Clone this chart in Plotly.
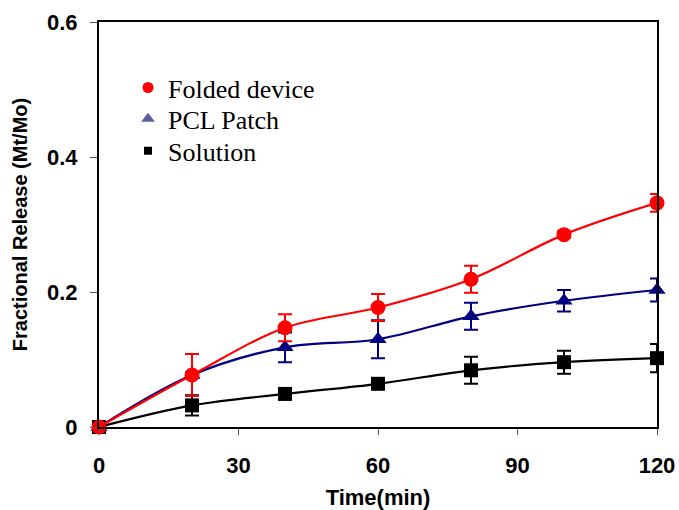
import plotly.graph_objects as go

time_min = [0, 20, 40, 60, 80, 100, 120]

folded = [0.0, 0.077, 0.147, 0.177, 0.219, 0.285, 0.332]
folded_err = [0.0, 0.031, 0.020, 0.020, 0.020, 0.005, 0.013]

pcl = [0.0, 0.077, 0.118, 0.130, 0.164, 0.187, 0.203]
pcl_err = [0.0, 0.004, 0.022, 0.028, 0.020, 0.016, 0.017]

solution = [0.0, 0.032, 0.049, 0.064, 0.084, 0.096, 0.102]
solution_err = [0.0, 0.015, 0.004, 0.004, 0.020, 0.017, 0.021]

y_ticks = [0, 0.2, 0.4, 0.6]
y_tick_labels = ["0", "0.2", "0.4", "0.6"]
x_ticks = [0, 30, 60, 90, 120]

names = ["Folded device", "PCL Patch", "Solution"]
colors = ["#ff0000", "#000080", "#000000"]
legend_colors = ["#ff0000", "#5c5c9e", "#000000"]
symbols = ["circle", "triangle-up", "square"]
sizes = [15, 15, 14]
legend_sizes = [11, 12, 8]
legend_ids = ["legend", "legend2", "legend3"]
legend_rows_y = [0.838, 0.761, 0.682]

fig = go.Figure()

series = [(solution, solution_err, 2), (pcl, pcl_err, 1), (folded, folded_err, 0)]
for vals, err, i in series:
    fig.add_trace(go.Scatter(
        x=time_min, y=vals, mode="lines+markers", line_shape="spline",
        line=dict(color=colors[i], width=2.2),
        marker=dict(color=colors[i], symbol=symbols[i], size=sizes[i]),
        error_y=dict(type="data", array=err, visible=True, color=colors[i],
                     thickness=2, width=7),
        showlegend=False, cliponaxis=False, name=names[i]))

for i in range(3):
    fig.add_trace(go.Scatter(
        x=[None], y=[None], mode="markers", name=names[i],
        marker=dict(color=legend_colors[i], symbol=symbols[i], size=legend_sizes[i]),
        showlegend=True, legend=legend_ids[i]))

legend_style = dict(x=0.052, xanchor="left", yanchor="middle",
                    font=dict(family="Liberation Serif", size=26, color="black"),
                    bgcolor="rgba(0,0,0,0)", itemwidth=30, borderwidth=0)

fig.update_layout(
    width=679, height=510,
    margin=dict(l=99, r=22, t=22, b=83),
    paper_bgcolor="white", plot_bgcolor="white",
    legend=dict(y=legend_rows_y[0], **legend_style),
    legend2=dict(y=legend_rows_y[1], **legend_style),
    legend3=dict(y=legend_rows_y[2], **legend_style),
    xaxis=dict(range=[0, 120], tickvals=x_ticks, showline=True, automargin=False,
               linecolor="black", linewidth=2, mirror=True,
               ticks="outside", ticklen=6, tickwidth=1, tickcolor="#555",
               ticklabelstandoff=12, showgrid=False, zeroline=False,
               tickfont=dict(family="Liberation Sans", size=22, weight="bold", color="black"),
               title=dict(text="Time(min)", standoff=22,
                          font=dict(family="Liberation Sans", size=22, weight="bold", color="black"))),
    yaxis=dict(range=[0, 0.6], tickvals=y_ticks, ticktext=y_tick_labels, automargin=False,
               showline=True, linecolor="black", linewidth=2, mirror=True,
               ticks="outside", ticklen=7, tickwidth=1, tickcolor="#555",
               ticklabelstandoff=8, showgrid=False, zeroline=False,
               tickfont=dict(family="Liberation Sans", size=22, weight="bold", color="black"),
               title=dict(text="Fractional Release (Mt/Mo)", standoff=14,
                          font=dict(family="Liberation Sans", size=20, weight="bold", color="black"))),
)

fig.write_html("out.html")
